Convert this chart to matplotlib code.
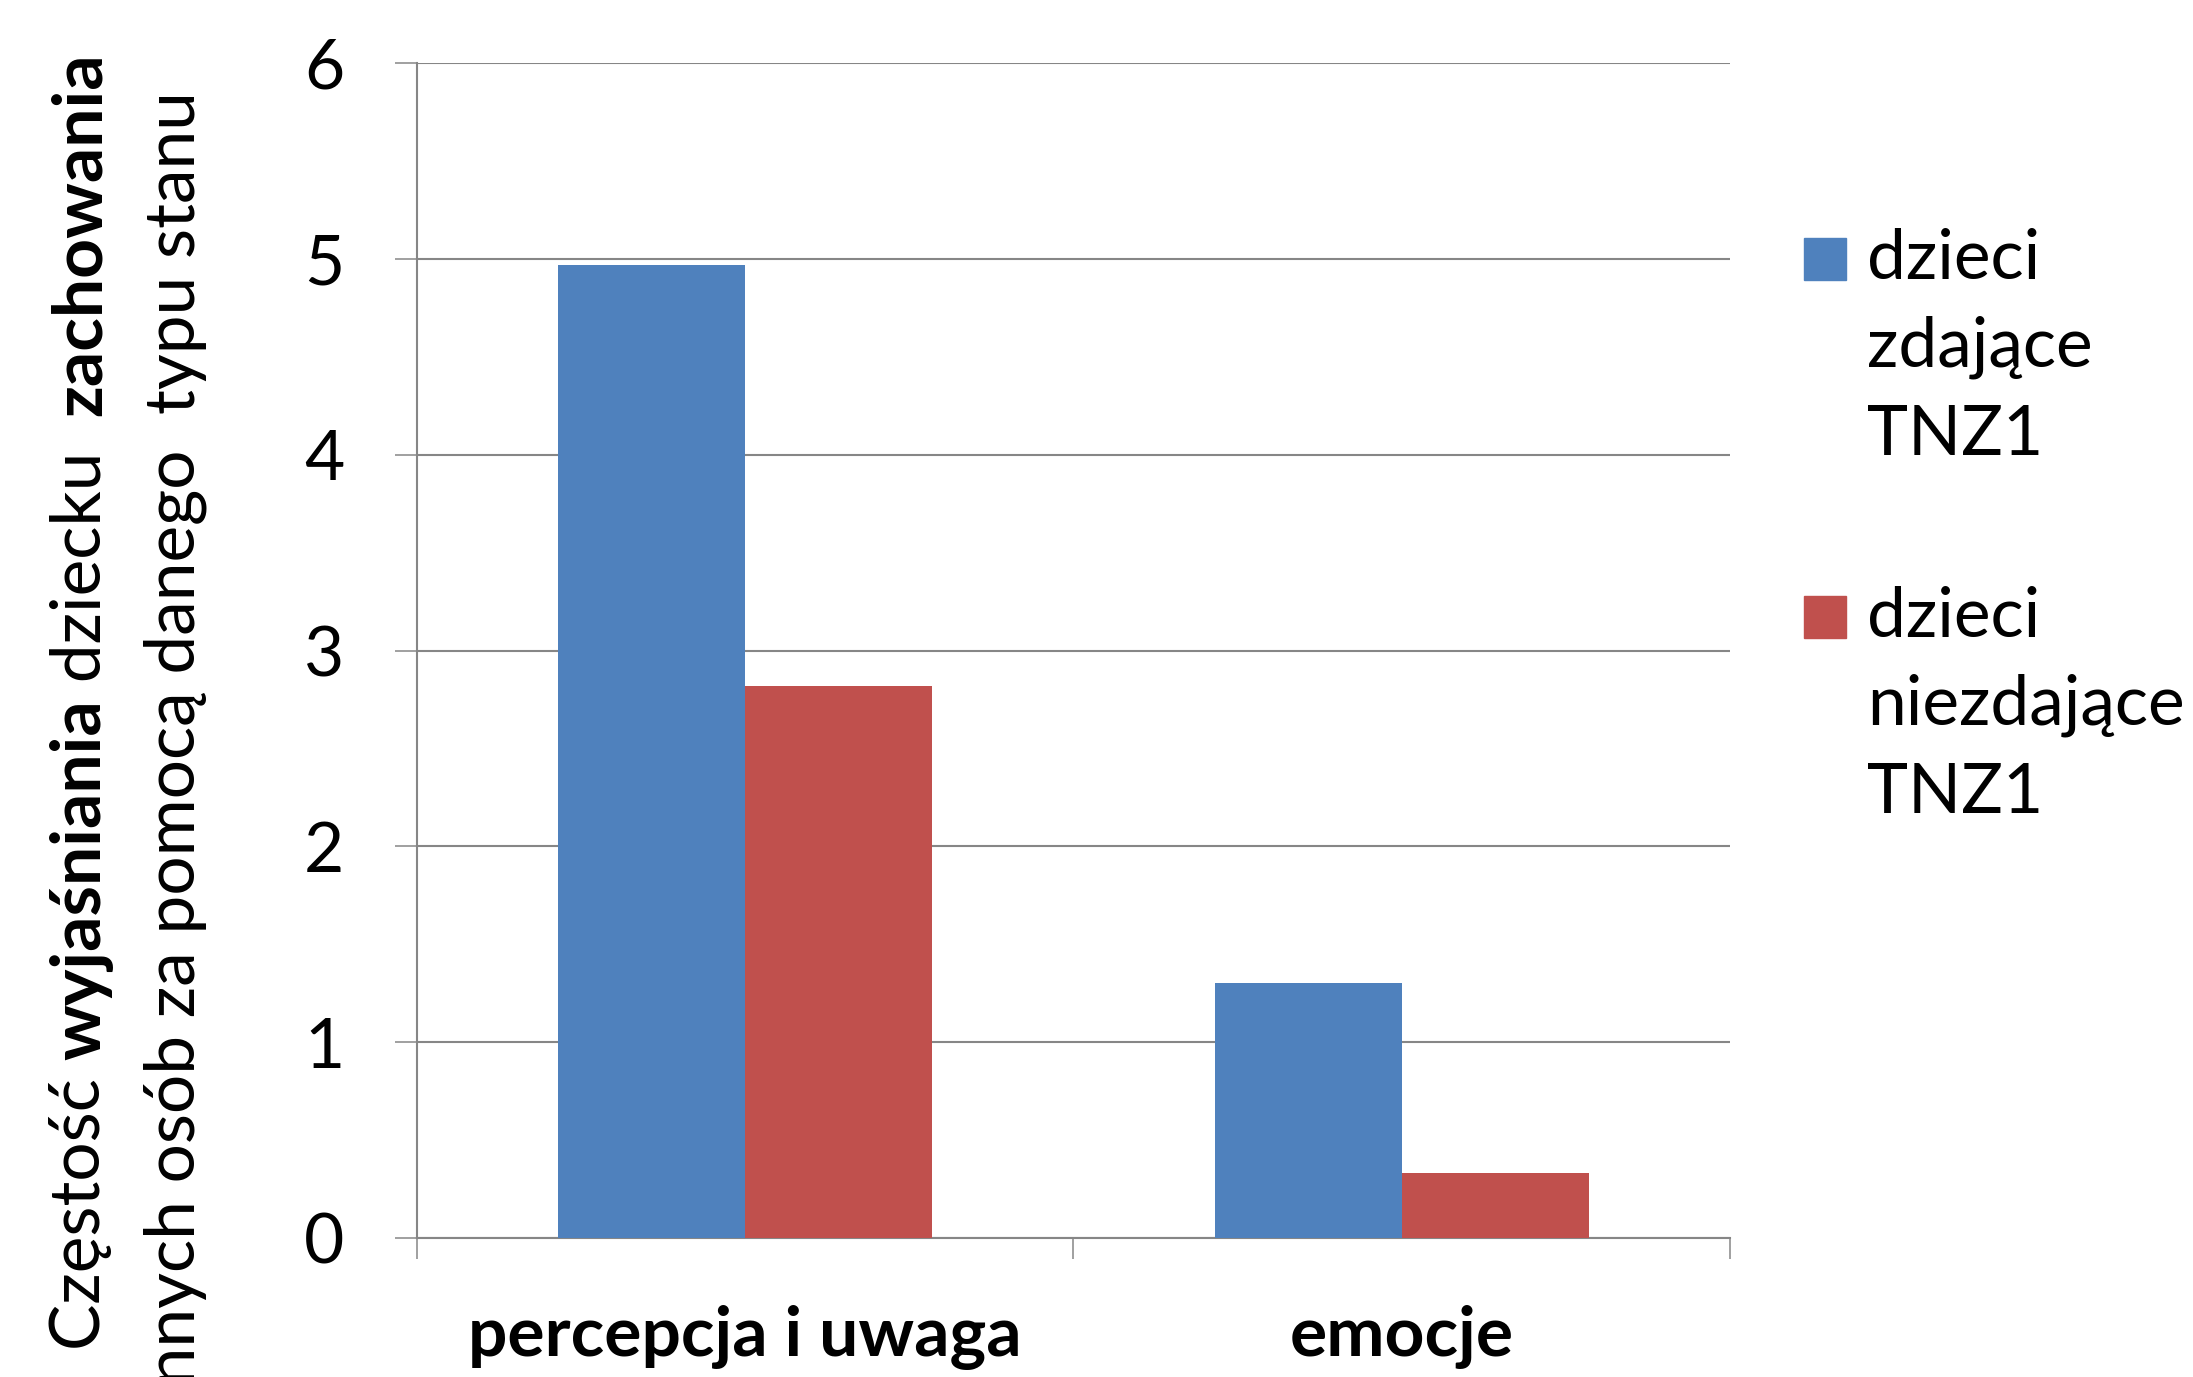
import matplotlib.pyplot as plt
from matplotlib.patches import Rectangle

categories = ['percepcja i uwaga', 'emocje']
series_names = ['dzieci\nzdające\nTNZ1', 'dzieci\nniezdające\nTNZ1']
values_pass = [4.97, 1.30]
values_fail = [2.82, 0.33]
colors = ['#4F81BD', '#C0504D']
yticks = [0, 1, 2, 3, 4, 5, 6]

FONT = 'Lato'
FS = 50
GRAY = '#868686'
W, H = 2193, 1377

fig = plt.figure(figsize=(W / 100, H / 100), dpi=100)
ax = fig.add_axes([0.190, 0.101, 0.599, 0.853])

x = list(range(len(categories)))
w = 0.285
ax.bar([i - w for i in x], values_pass, width=w, align='edge', color=colors[0], zorder=3)
ax.bar(x, values_fail, width=w, align='edge', color=colors[1], zorder=3)

ax.set_xlim(-0.5, 1.5)
ax.set_ylim(0, 6)
ax.set_yticks(yticks)
ax.set_yticklabels([str(t) for t in yticks], fontfamily=FONT, fontsize=FS)
ax.yaxis.grid(True, color=GRAY, linewidth=1.5, zorder=0)
ax.tick_params(axis='y', direction='out', length=16, width=1.1, color=GRAY, pad=36)

# category boundaries get the ticks, names sit on minor ticks at the centres
ax.set_xticks([-0.5, 0.5, 1.5])
ax.set_xticklabels([])
ax.set_xticks(x, minor=True)
ax.set_xticklabels(categories, minor=True, fontfamily=FONT, fontsize=FS, fontweight='bold')
ax.tick_params(axis='x', which='major', direction='out', length=15, width=1.1, color=GRAY)
ax.tick_params(axis='x', which='minor', length=0, pad=48)

for s in ['top', 'right']:
    ax.spines[s].set_visible(False)
for s in ['left', 'bottom']:
    ax.spines[s].set_color(GRAY)
    ax.spines[s].set_linewidth(1.5)

# legend drawn by hand so the swatch sits on the first line
leg_tops = [238, 596]
for name, col, top in zip(series_names, colors, leg_tops):
    fig.patches.append(Rectangle((1804 / W, 1 - (top + 42) / H), 42 / W, 42 / H,
                                 transform=fig.transFigure, color=col))
    fig.text(1867 / W, 1 - (top - 10) / H, name, fontfamily=FONT, fontsize=FS,
             va='top', ha='left', linespacing=1.49)

# y label: two rotated lines, the first with bold words
pieces = [('Częstość ', 'normal'), ('wyjaśniania', 'bold'),
          (' dziecku  ', 'normal'), ('zachowania', 'bold')]
texts = []
for txt, wt in pieces:
    texts.append(fig.text(81 / W, 1 - 1350 / H, txt, rotation=90, fontfamily=FONT,
                          fontsize=FS, fontweight=wt, ha='center', va='bottom'))
fig.canvas.draw()
r = fig.canvas.get_renderer()
bb = texts[0].get_window_extent(r)
for t in texts[1:]:
    t.set_position((81 / W, bb.y1 / H))
    bb = t.get_window_extent(r)

fig.text(175 / W, 1 - 91 / H, 'innych osób za pomocą danego  typu stanu', rotation=90,
         fontfamily=FONT, fontsize=FS, ha='center', va='top')

fig.savefig('out.png', dpi=100)
